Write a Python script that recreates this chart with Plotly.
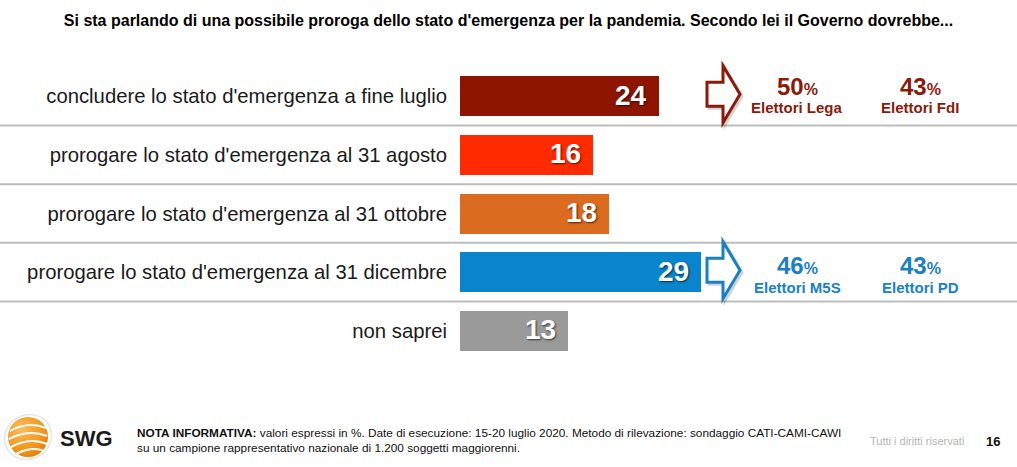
import base64
import plotly.graph_objects as go

# ---------------- data ----------------
categories = [
    "concludere lo stato d'emergenza a fine luglio",
    "prorogare lo stato d'emergenza al 31 agosto",
    "prorogare lo stato d'emergenza al 31 ottobre",
    "prorogare lo stato d'emergenza al 31 dicembre",
    "non saprei",
]
values = [24, 16, 18, 29, 13]
bar_colors = ["#8E1500", "#FF2B00", "#DA6B1F", "#0A84CC", "#9A9A9A"]

# voter breakdowns shown to the right of rows 0 and 3
callout_rows = [0, 3]
callout_colors = ["#8B1A0A", "#1A80C4"]
callout_pcts = [[50, 43], [46, 43]]
callout_labels = [["Elettori Lega", "Elettori FdI"], ["Elettori M5S", "Elettori PD"]]

title_text = ("Si sta parlando di una possibile proroga dello stato d'emergenza per la pandemia. "
              "Secondo lei il Governo dovrebbe...")
note_text = ("<b>NOTA INFORMATIVA:</b> valori espressi in %. Date di esecuzione: 15-20 luglio 2020. "
             "Metodo di rilevazione: sondaggio CATI-CAMI-CAWI<br>"
             "su un campione rappresentativo nazionale di 1.200 soggetti maggiorenni.")

# ---------------- layout geometry ----------------
FW, FH = 1017, 467
L, R, T, B = 460, 0, 61, 101
W = FW - L - R
H = FH - T - B
PX_PER_UNIT = 8.3
XMAX = W / PX_PER_UNIT
Y0, Y1 = -0.6, 4.6
K = H / (Y1 - Y0)  # px per row


def xp(px):
    return (px - L) / W


def yp(py):
    return (T + H - py) / H


def xd(px):
    return (px - L) / PX_PER_UNIT


FONT = "Liberation Sans, Arial, Helvetica, sans-serif"

rows = list(range(len(categories)))

fig = go.Figure()
fig.add_trace(go.Bar(
    x=values, y=rows, orientation="h",
    marker=dict(color=bar_colors, line=dict(width=0)),
    width=40 / K, hoverinfo="skip",
))

annotations = []
for r, v in zip(rows, values):
    annotations.append(dict(
        x=v, y=r, xref="x", yref="y", text=f"<b>{v}</b>", showarrow=False,
        xanchor="right", yanchor="middle", xshift=-10, yshift=1,
        font=dict(family=FONT, size=28, color="white",
                  shadow="1px 1px 2px rgba(0,0,0,0.65)"),
    ))

shapes = []
# separator lines
for i in range(len(categories) - 1):
    shapes.append(dict(type="line", xref="paper", yref="y",
                       x0=xp(0), x1=xp(FW), y0=i + 0.5, y1=i + 0.5,
                       line=dict(color="#BDBDBD", width=2), layer="below"))


def arrow_path(row, dx=0.0, dy=0.0):
    cy = row - 2 / K + dy / K
    pts = [
        (707, -12), (723, -12), (723, -28.5), (740, 0),
        (723, 28.5), (723, 12), (707, 12),
    ]
    s = ""
    for j, (px, off) in enumerate(pts):
        s += ("M" if j == 0 else "L") + f"{xd(px + dx):.4f},{cy + off / K:.4f} "
    return s + "Z"


for row, col, pcts, labs in zip(callout_rows, callout_colors, callout_pcts, callout_labels):
    # arrow shadow + arrow
    shapes.append(dict(type="path", xref="x", yref="y", path=arrow_path(row, 2, 2),
                       line=dict(color="rgba(0,0,0,0.18)", width=3), fillcolor="rgba(0,0,0,0)"))
    shapes.append(dict(type="path", xref="x", yref="y", path=arrow_path(row),
                       line=dict(color=col, width=3), fillcolor="white"))
    for cx, p, lab in zip([797, 920], pcts, labs):
        annotations.append(dict(
            x=xd(cx), y=row, xref="x", yref="y",
            text=f"<b>{p}<span style='font-size:16px'>%</span></b>", showarrow=False,
            xanchor="center", yanchor="middle", yshift=10 if row == 0 else 7,
            font=dict(family=FONT, size=24, color=col)))
        annotations.append(dict(
            x=xd(cx), y=row, xref="x", yref="y", text=f"<b>{lab}</b>", showarrow=False,
            xanchor="center", yanchor="middle", yshift=-11 if row == 0 else -15,
            font=dict(family=FONT, size=15, color=col)))

# footer
annotations.append(dict(x=xp(135), y=yp(440), xref="paper", yref="paper", text=note_text,
                        showarrow=False, xanchor="left", yanchor="middle", align="left",
                        font=dict(family=FONT, size=11.8, color="#111111")))
annotations.append(dict(x=xp(966), y=yp(441), xref="paper", yref="paper",
                        text="Tutti i diritti riservati", showarrow=False,
                        xanchor="right", yanchor="middle",
                        font=dict(family=FONT, size=11, color="#B5B5B5")))
annotations.append(dict(x=xp(984), y=yp(441), xref="paper", yref="paper",
                        text="<b>16</b>", showarrow=False, xanchor="left", yanchor="middle",
                        font=dict(family=FONT, size=13, color="#111111")))
annotations.append(dict(x=xp(58), y=yp(438), xref="paper", yref="paper",
                        text="<b>SWG</b>", showarrow=False, xanchor="left", yanchor="middle",
                        font=dict(family=FONT, size=22, color="#1A1A1A")))

# logo as inline svg
logo_svg = """<svg xmlns='http://www.w3.org/2000/svg' width='50' height='50' viewBox='0 0 50 50'>
<defs><radialGradient id='g' cx='0.35' cy='0.3' r='0.8'>
<stop offset='0' stop-color='#FDBA5A'/><stop offset='0.6' stop-color='#F39A1E'/><stop offset='1' stop-color='#E07A0A'/>
</radialGradient></defs>
<ellipse cx='25' cy='25' rx='24' ry='22' fill='none' stroke='#E6E6E6' stroke-width='1.5' transform='rotate(-30 25 25)'/>
<circle cx='25' cy='25' r='20' fill='url(#g)'/>
<path d='M7 19 Q25 9 43 16' stroke='white' stroke-width='2' fill='none'/>
<path d='M6 27 Q26 17 44 24' stroke='white' stroke-width='2' fill='none'/>
<path d='M8 35 Q27 25 44 32' stroke='white' stroke-width='2' fill='none'/>
<path d='M13 42 Q29 34 41 39' stroke='white' stroke-width='2' fill='none'/>
</svg>"""
logo_uri = "data:image/svg+xml;base64," + base64.b64encode(logo_svg.encode()).decode()

fig.update_layout(
    width=FW, height=FH,
    margin=dict(l=L, r=R, t=T, b=B, pad=0),
    paper_bgcolor="white", plot_bgcolor="white",
    showlegend=False,
    bargap=0,
    title=dict(text=f"<b>{title_text}</b>", x=0.5, xref="container", xanchor="center",
               y=1 - 20 / FH, yref="container", yanchor="middle",
               font=dict(family=FONT, size=16, color="#000000")),
    xaxis=dict(range=[0, XMAX], visible=False, fixedrange=True),
    yaxis=dict(range=[Y1, Y0], tickvals=rows, ticktext=categories, showgrid=False,
               zeroline=False, showline=False, ticks="", ticklabelstandoff=12,
               tickfont=dict(family=FONT, size=20.3, color="#1A1A1A"), fixedrange=True),
    shapes=shapes,
    annotations=annotations,
    images=[dict(source=logo_uri, xref="paper", yref="paper", x=xp(3), y=yp(412),
                 sizex=50 / W, sizey=50 / H, xanchor="left", yanchor="top",
                 sizing="contain", layer="above")],
)

fig.write_html("out.html", config={"displayModeBar": False})
